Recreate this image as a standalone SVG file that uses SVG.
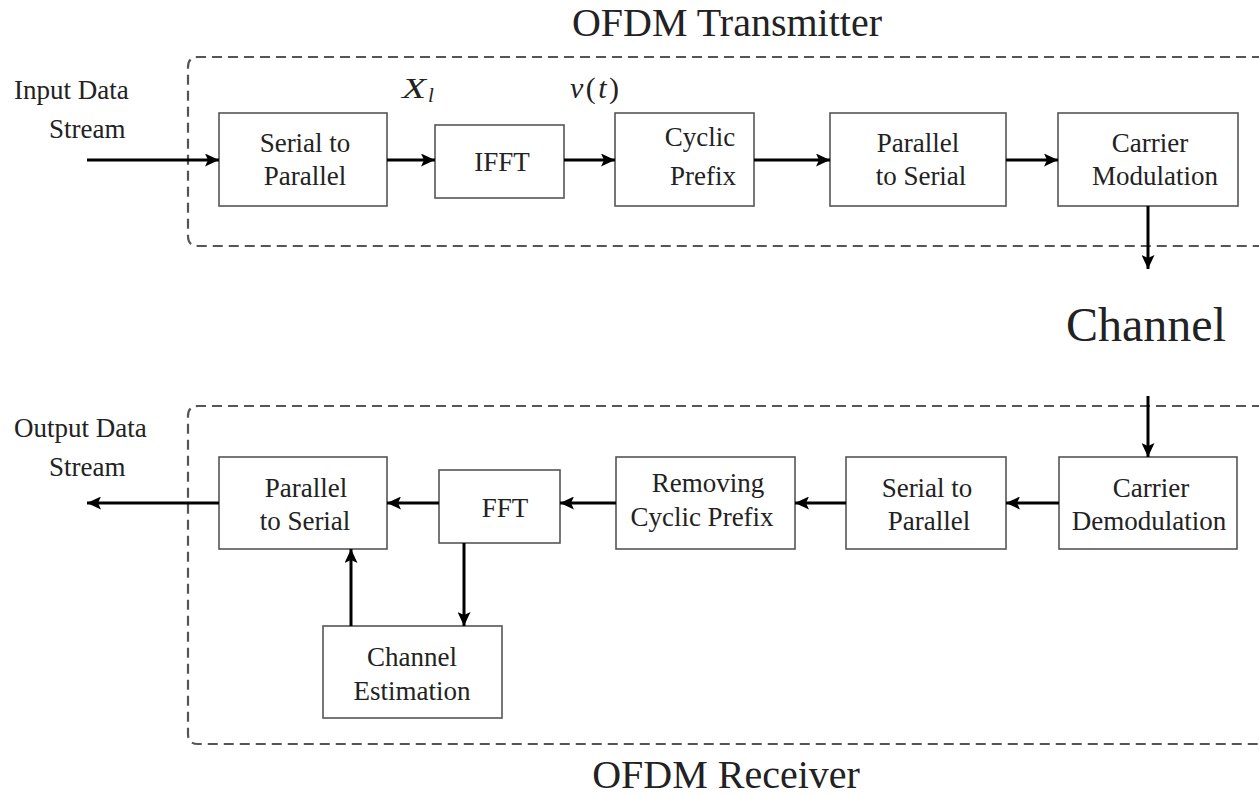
<svg xmlns="http://www.w3.org/2000/svg" width="1259" height="797" viewBox="0 0 1259 797">
  <style>
    text { font-family: "Liberation Serif", "Times New Roman", serif; fill: #222; }
    .t { font-size: 27px; text-anchor: middle; }
    .lbl { font-size: 27px; }
    .title { font-size: 40px; text-anchor: middle; }
    .big { font-size: 48px; text-anchor: middle; }
    .box { fill: #fff; stroke: #555; stroke-width: 1.6; }
    .frame { fill: none; stroke: #555; stroke-width: 2.2; stroke-dasharray: 10 6; }
    .arr { stroke: #000; stroke-width: 3; fill: none; marker-end: url(#ah); }
    .m { font-size: 30px; }
  </style>
  <defs>
    <marker id="ah" markerUnits="userSpaceOnUse" markerWidth="15" markerHeight="13" refX="14" refY="6.5" orient="auto">
      <path d="M0,0 L14,6.5 L0,13 L3,6.5 Z" fill="#000"/>
    </marker>
  </defs>
  <rect width="1259" height="797" fill="#fff"/>

  <g id="transmitter-frame">
    <path class="frame" d="M1262,57 H198 Q188,57 188,67 V236 Q188,246 198,246 H1262"/>
    <text class="title" x="727" y="36">OFDM Transmitter</text>
  </g>
  <g id="receiver-frame">
    <path class="frame" d="M1262,406 H198 Q188,406 188,416 V734 Q188,744 198,744 H1262"/>
    <text class="title" x="726" y="788">OFDM Receiver</text>
  </g>
  <g id="channel">
    <text class="big" x="1146" y="341">Channel</text>
  </g>

  <g id="input-label">
    <text class="lbl" x="14" y="99">Input Data</text>
    <text class="lbl" x="49" y="138">Stream</text>
  </g>
  <g id="output-label">
    <text class="lbl" x="14" y="437">Output Data</text>
    <text class="lbl" x="49" y="476">Stream</text>
  </g>

  <g id="tx-s2p">
    <rect class="box" x="219" y="113" width="168" height="93"/>
    <text class="t" x="305" y="152">Serial to</text>
    <text class="t" x="305" y="185">Parallel</text>
  </g>
  <g id="tx-ifft">
    <rect class="box" x="435" y="125" width="129" height="73"/>
    <text class="t" x="502" y="171">IFFT</text>
  </g>
  <g id="tx-cp">
    <rect class="box" x="615" y="113" width="139" height="93"/>
    <text class="t" x="700" y="146">Cyclic</text>
    <text class="t" x="703" y="185">Prefix</text>
  </g>
  <g id="tx-p2s">
    <rect class="box" x="830" y="113" width="176" height="93"/>
    <text class="t" x="918" y="152">Parallel</text>
    <text class="t" x="921" y="185">to Serial</text>
  </g>
  <g id="tx-mod">
    <rect class="box" x="1058" y="113" width="180" height="93"/>
    <text class="t" x="1150" y="152">Carrier</text>
    <text class="t" x="1155" y="185">Modulation</text>
  </g>

  <g id="rx-demod">
    <rect class="box" x="1059" y="457" width="178" height="92"/>
    <text class="t" x="1151" y="497">Carrier</text>
    <text class="t" x="1149" y="530">Demodulation</text>
  </g>
  <g id="rx-s2p">
    <rect class="box" x="846" y="457" width="160" height="92"/>
    <text class="t" x="927" y="497">Serial to</text>
    <text class="t" x="929" y="530">Parallel</text>
  </g>
  <g id="rx-rcp">
    <rect class="box" x="616" y="457" width="179" height="92"/>
    <text class="t" x="708" y="492">Removing</text>
    <text class="t" x="702" y="526">Cyclic Prefix</text>
  </g>
  <g id="rx-fft">
    <rect class="box" x="439" y="470" width="121" height="73"/>
    <text class="t" x="505" y="517">FFT</text>
  </g>
  <g id="rx-p2s">
    <rect class="box" x="219" y="457" width="168" height="92"/>
    <text class="t" x="306" y="497">Parallel</text>
    <text class="t" x="305" y="530">to Serial</text>
  </g>
  <g id="rx-ce">
    <rect class="box" x="323" y="626" width="179" height="92"/>
    <text class="t" x="412" y="666">Channel</text>
    <text class="t" x="412" y="700">Estimation</text>
  </g>

  <g id="signal-labels">
    <text class="m" x="402" y="98"><tspan font-style="italic" textLength="24" lengthAdjust="spacingAndGlyphs">X</tspan><tspan font-style="italic" font-size="21" dx="2" dy="4">l</tspan></text>
    <text class="m" x="570" y="98" textLength="49" lengthAdjust="spacing"><tspan font-style="italic">v</tspan>(<tspan font-style="italic">t</tspan>)</text>
  </g>

  <g id="connectors">
    <line class="arr" x1="87" y1="160" x2="219" y2="160"/>
    <line class="arr" x1="387" y1="160" x2="435" y2="160"/>
    <line class="arr" x1="564" y1="160" x2="615" y2="160"/>
    <line class="arr" x1="754" y1="160" x2="830" y2="160"/>
    <line class="arr" x1="1006" y1="160" x2="1058" y2="160"/>
    <line class="arr" x1="1148" y1="206" x2="1148" y2="269"/>
    <line class="arr" x1="1148" y1="396" x2="1148" y2="457"/>
    <line class="arr" x1="1059" y1="503" x2="1006" y2="503"/>
    <line class="arr" x1="846" y1="503" x2="795" y2="503"/>
    <line class="arr" x1="616" y1="503" x2="560" y2="503"/>
    <line class="arr" x1="439" y1="503" x2="387" y2="503"/>
    <line class="arr" x1="219" y1="503" x2="87" y2="503"/>
    <line class="arr" x1="351" y1="626" x2="351" y2="549"/>
    <line class="arr" x1="464" y1="543" x2="464" y2="626"/>
  </g>
</svg>
